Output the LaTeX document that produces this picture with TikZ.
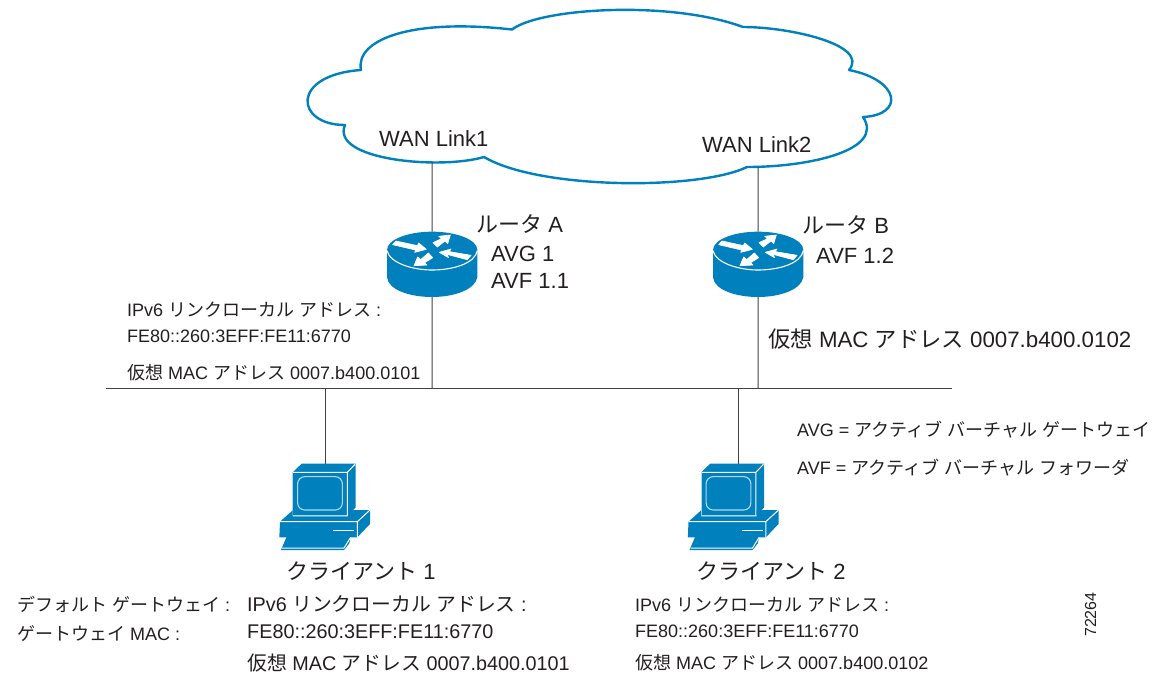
\documentclass[tikz,border=0pt]{standalone}
\usepackage{fontspec}
\setmainfont{Liberation Sans}
\newfontfamily\cjk{Noto Sans CJK JP}
\newcommand{\J}[1]{{\cjk #1}}
\definecolor{cblue}{HTML}{0080BD}
\definecolor{ink}{HTML}{231F20}
\tikzset{
  lab/.style={anchor=base west,inner sep=0pt,text=ink,font=\fontsize{22}{24}\selectfont},
  labw/.style={anchor=base west,inner sep=0pt,text=ink,font=\fontsize{22.3}{24}\selectfont},
  lbl/.style={anchor=base west,inner sep=0pt,text=ink,font=\fontsize{18}{20}\selectfont},
  lblb/.style={anchor=base west,inner sep=0pt,text=ink,font=\fontsize{19.8}{22}\selectfont},
  wire/.style={draw=ink!85,line width=1pt},
  cloudline/.style={draw=cblue,line width=2.4pt,line join=round},
  arrowfill/.style={fill=white,draw=white,line width=.7pt,line join=round},
  routericon/.pic={
    \begin{scope}[x=.33333pt,y=-.33333pt]
      \fill[cblue] (81,180) arc[start angle=180,end angle=360,x radius=135.5,y radius=55] -- (352,262)
        .. controls (345,300) and (280,321) .. (216,321) .. controls (150,321) and (85,300) .. (81,262) -- cycle;
      \draw[white,line width=1.1pt] (81,182) .. controls (90,220) and (160,240) .. (216,240) .. controls (280,240) and (345,220) .. (352,182);
      \path[arrowfill] (98,164) -- (108,153) -- (172,167) -- (176,159) -- (199,178) -- (164,187) -- (167,180) -- cycle;
      \path[arrowfill] (232,171) -- (219,158) -- (245,146) -- (236,139) -- (271,135) -- (263,161) -- (255,153) -- cycle;
      \path[arrowfill] (238,187) -- (273,177) -- (268,185) -- (333,196) -- (322,209) -- (261,193) -- (266,203) -- cycle;
      \path[arrowfill] (162,227) -- (173,201) -- (182,209) -- (205,189) -- (218,203) -- (194,218) -- (201,225) -- cycle;
      \coordinate (-top) at (216,125);
      \coordinate (-bot) at (216,321);
    \end{scope}
  },
  pcicon/.pic={
    \begin{scope}[x=.33333pt,y=-.33333pt]
      \fill[cblue] (98,67) -- (125,41) -- (287,41) -- (287,172) -- (262,197) -- (98,197) -- cycle;
      \draw[white,line width=1pt] (98,67) -- (262,67) -- (285,43) (262,67) -- (262,197);
      \draw[white!70!cblue,line width=1pt] (98,67) -- (98,197) -- (262,197);
      \draw[white!70!cblue,line width=1.1pt,rounded corners=7pt] (113,80) rectangle (247,180);
      \fill[cblue] (98,181) -- (60,215) -- (58,262) -- (292,262) -- (330,222) -- (330,180) -- (264,180) -- (264,199) -- (98,199) -- cycle;
      \draw[white,line width=1pt] (60,215) -- (292,215) -- (330,180) (292,215) -- (292,262);
      \draw[white,line width=1.2pt] (219,242) -- (282,242);
      \fill[cblue] (80,260) -- (272,260) -- (268,280) -- (252,300) -- (63,300) -- cycle;
      \draw[white,line width=1pt] (272,262) -- (252,294) -- (66,294);
      \coordinate (-top) at (192,41);
    \end{scope}
  }
}
\begin{document}
\begin{tikzpicture}[x=1pt,y=-1pt]
\useasboundingbox (0,0) rectangle (1163,673);
% cloud
\draw[cloudline] (512,29.5)
  .. controls (540,8) and (670,0) .. (743,27)
  .. controls (790,27) and (870,45) .. (849,70)
  .. controls (900,80) and (905,115) .. (863,117)
  .. controls (885,150) and (810,167) .. (747,167)
  .. controls (700,190) and (540,190) .. (484,157)
  .. controls (440,170) and (330,160) .. (345,125)
  .. controls (295,125) and (290,75) .. (361,70)
  .. controls (355,40) and (410,18) .. (512,29.5) -- cycle;
\coordinate (cl1) at (432,162);
\coordinate (cl2) at (758,167);
% lan
\coordinate (lanL) at (106,388);
\coordinate (lanR) at (952,388);
\coordinate (lanA) at (432,388);
\coordinate (lanB) at (758,388);
\coordinate (lanC) at (325,388);
\coordinate (lanD) at (738,388);
\pic (ra) at (360,190) {routericon};
\pic (rb) at (686,190) {routericon};
\pic (pa) at (260,450) {pcicon};
\pic (pb) at (668.5,450) {pcicon};
\draw[wire] (lanL) -- (lanR);
\draw[wire] (cl1) -- (ra-top);
\draw[wire] (ra-bot) -- (lanA);
\draw[wire] (cl2) -- (rb-top);
\draw[wire] (rb-bot) -- (lanB);
\draw[wire] (lanC) -- (lanC |- pa-top);
\draw[wire] (lanD) -- (lanD |- pb-top);
% labels
\node[lab] (w1) at (379,146) {WAN Link1};
\node[lab] (w2) at (702,152) {WAN Link2};
\node[lab] (t1) at (476,232) {\J{ルータ} A};
\node[lab] (t2) at (491,261) {AVG 1};
\node[lab] (t3) at (491,288) {AVF 1.1};
\node[lab] (t4) at (802,233) {\J{ルータ} B};
\node[lab] (t5) at (816,263) {AVF 1.2};
\node[labw] (t6) at (768,347) {\J{仮想} MAC \J{アドレス} 0007.b400.0102};
\node[lbl] (a1) at (127,316) {IPv6 \J{リンクローカル} \J{アドレス} :};
\node[lbl] (a2) at (127,342) {FE80::260:3EFF:FE11:6770};
\node[lbl] (a3) at (127,379) {\J{仮想} MAC \J{アドレス} 0007.b400.0101};
\node[lbl] (d1) at (797,436) {AVG = \J{アクティブ} \J{バーチャル} \J{ゲートウェイ}};
\node[lbl] (d2) at (797,474) {AVF = \J{アクティブ} \J{バーチャル} \J{フォワーダ}};
\node[lab] (c1) at (286,579) {\J{クライアント} 1};
\node[lab] (c2) at (696,579) {\J{クライアント} 2};
\node[lbl] (g1) at (17,611) {\J{デフォルト} \J{ゲートウェイ} :};
\node[lbl] (g2) at (17,640) {\J{ゲートウェイ} MAC :};
\node[lblb] (b1) at (247,611) {IPv6 \J{リンクローカル} \J{アドレス} :};
\node[lblb] (b2) at (247,638) {FE80::260:3EFF:FE11:6770};
\node[lblb] (b3) at (247,670) {\J{仮想} MAC \J{アドレス} 0007.b400.0101};
\node[lbl] (e1) at (635,611) {IPv6 \J{リンクローカル} \J{アドレス} :};
\node[lbl] (e2) at (635,637) {FE80::260:3EFF:FE11:6770};
\node[lbl] (e3) at (635,669) {\J{仮想} MAC \J{アドレス} 0007.b400.0102};
\node[lbl,rotate=90,font=\fontsize{16}{18}\selectfont] (n) at (1096,637) {72264};
\end{tikzpicture}
\end{document}
